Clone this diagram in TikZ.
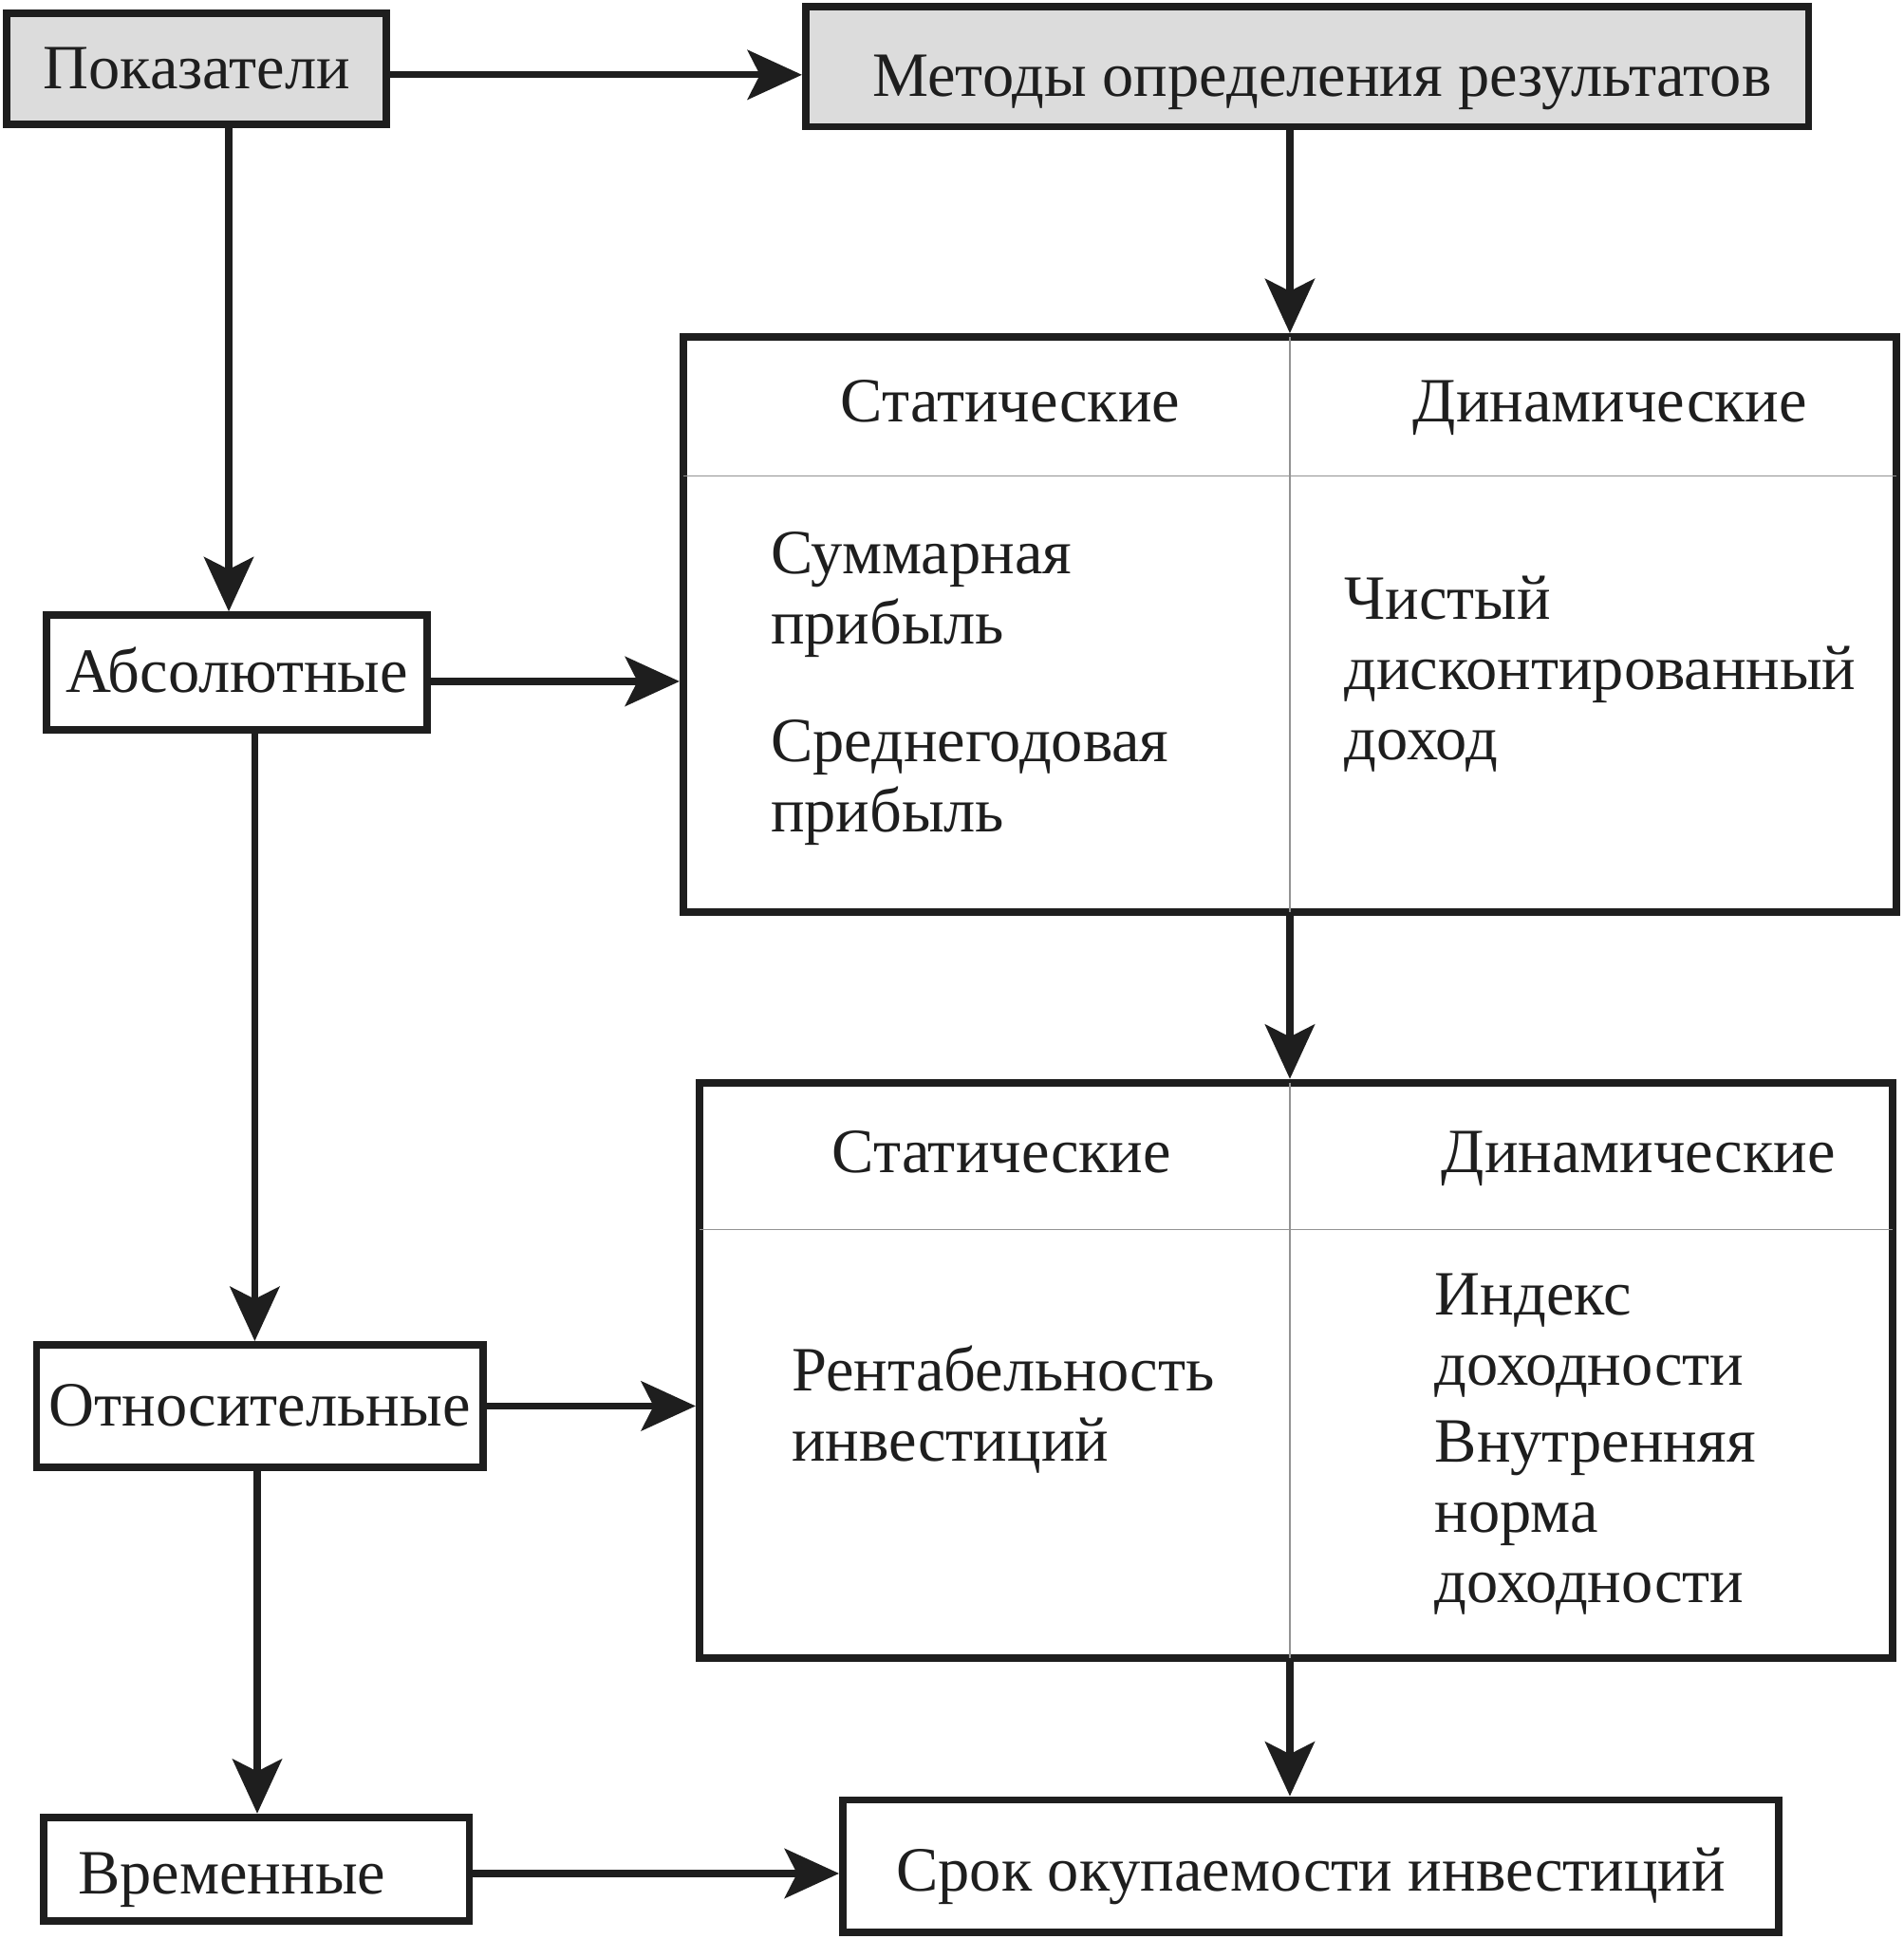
\documentclass[tikz,border=0pt]{standalone}
\usepackage{fontspec}
\setmainfont{Liberation Serif}
\usetikzlibrary{arrows.meta,calc}
\definecolor{boxgray}{RGB}{220,220,220}
\definecolor{ink}{RGB}{30,30,30}
\begin{document}
\begin{tikzpicture}[x=1pt,y=-1pt,
  every node/.style={font=\fontsize{51}{57}\selectfont, text=ink},
  box/.style={draw=ink, line width=6pt, rectangle, inner sep=0pt, text height=40pt, text depth=8pt},
  head/.style={inner sep=0pt, text height=40pt, text depth=8pt},
  arr/.style={draw=ink, line width=5.5pt, -{Stealth[length=44pt,width=40pt,inset=10pt]}},
  divider/.style={draw=gray!85, line width=0.9pt, shorten <=3pt, shorten >=3pt},
  celltext/.style={inner sep=0pt, align=left, anchor=west}]
\useasboundingbox (0,0) rectangle (1539,1568);

% top boxes
\node[box, fill=boxgray, minimum width=307pt, minimum height=90pt] (p) at (159,55.5) {Показатели};
\node[box, fill=boxgray, minimum width=811pt, minimum height=97pt] (m) at (1057,54) {\hspace*{24pt}\raisebox{-8pt}{Методы определения результатов}};

% table 1
\node[box, minimum width=981pt, minimum height=465pt] (t1) at (1043,505) {};
\draw[divider] (t1.north) -- (t1.south);
\draw[divider] (t1.west |- 0,385) -- (t1.east |- 0,385);
\node[head] (t1s) at (817,325) {Статические};
\node[head] (t1d) at (1302,325) {Динамические};
\node[celltext] (t1sb) at (623,557) {Суммарная\\прибыль\\[38pt]Среднегодовая\\прибыль};
\node[celltext] (t1db) at (1087,545) {Чистый\\дисконтированный\\доход};

% table 2
\node[box, minimum width=965pt, minimum height=465pt] (t2) at (1048,1108) {};
\draw[divider] (t1.north |- t2.north) -- (t1.south |- t2.south);
\draw[divider] (t2.west |- 0,994) -- (t2.east |- 0,994);
\node[head] (t2s) at (810,932) {Статические};
\node[head] (t2d) at (1325,932) {Динамические};
\node[celltext] (t2sb) at (640,1140) {Рентабельность\\инвестиций};
\node[celltext] (t2db) at (1160,1168) {Индекс\\доходности\\[5pt]Внутренняя\\норма\\доходности};

% left column boxes
\node[box, minimum width=308pt, minimum height=93pt] (a) at (191.5,544) {Абсолютные};
\node[box, minimum width=361pt, minimum height=99pt] (r) at (210,1137) {Относительные};
\node[box, minimum width=344pt, minimum height=84pt] (v) at (207.5,1511.5) {\raisebox{-4pt}{Временные}\hspace*{40pt}};
\node[box, minimum width=757pt, minimum height=107pt] (s) at (1060,1509) {\raisebox{-4pt}{Срок окупаемости инвестиций}};

% connectors
\draw[arr] ([yshift=-5pt]p.east) -- ([yshift=-5pt]p.east -| m.west);
\draw[arr] (t1.north |- m.south) -- (t1.north);
\draw[arr] ([xshift=26pt]p.south) -- ([xshift=26pt]p.south |- a.north);
\draw[arr] ([yshift=-7pt]a.east) -- ([yshift=-7pt]a.east -| t1.west);
\draw[arr] ([xshift=14.5pt]a.south) -- ([xshift=14.5pt]a.south |- r.north);
\draw[arr] (r.east) -- (r.east -| t2.west);
\draw[arr] ([xshift=-2pt]r.south) -- ([xshift=-2pt]r.south |- v.north);
\draw[arr] ([yshift=-3.5pt]v.east) -- ([yshift=-3.5pt]v.east -| s.west);
\draw[arr] (t1.south) -- (t1.south |- t2.north);
\draw[arr] (t1.south |- t2.south) -- (t1.south |- s.north);
\end{tikzpicture}
\end{document}
